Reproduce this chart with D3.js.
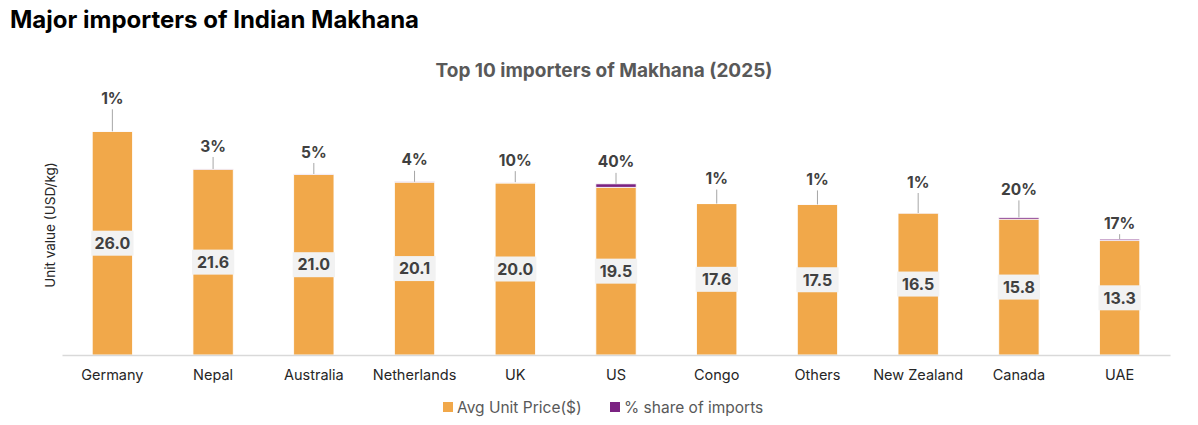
<!DOCTYPE html>
<html>
    <head>
        <title>Makhana importers</title>
        <style>
body {
    margin: 0;
    background: #fff;
}

svg {
    display: block;
    font-family: Inter, "Noto Sans", sans-serif;
}

.bar {
    stroke: #fff;
    stroke-width: 0.8;
}
        </style>
    </head>
    <body>
        <div id="d3"></div>
        <script src="https://d3js.org/d3.v7.min.js"></script>
        <script>

// values
const countries = ["Germany", "Nepal", "Australia", "Netherlands", "UK", "US", "Congo", "Others", "New Zealand", "Canada", "UAE"]
const avgPrice = [26.0, 21.6, 21.0, 20.1, 20.0, 19.5, 17.6, 17.5, 16.5, 15.8, 13.3]
const shareOfImports = [0.01, 0.03, 0.05, 0.04, 0.10, 0.40, 0.01, 0.01, 0.01, 0.20, 0.17]
const seriesNames = ["Avg Unit Price($)", "% share of imports"]

// hand placed lift of the % labels above each bar (like dragged Excel labels)
const labelLift = [33, 23, 22, 22, 22, 22, 25, 25, 31, 28, 16]

const W = 1198, H = 425
const margin = {top: 97, right: 28, bottom: 70, left: 62}
const width = W - margin.left - margin.right
const height = H - margin.top - margin.bottom

const orange = "#f1a84a"
const purple = "#7b2382"

const data = countries.map((c, i) => ({
    country: c, price: avgPrice[i], share: shareOfImports[i], lift: labelLift[i]
}))

const svg = d3.select("#d3").append("svg")
    .attr("width", W)
    .attr("height", H)

svg.append("text")
    .attr("x", 10)
    .attr("y", 28)
    .style("font-size", "24px")
    .style("font-weight", 700)
    .attr("fill", "#000")
    .text("Major importers of Indian Makhana")

svg.append("text")
    .attr("x", 604)
    .attr("y", 77)
    .attr("text-anchor", "middle")
    .style("font-size", "19px")
    .style("font-weight", 700)
    .attr("fill", "#595959")
    .text("Top 10 importers of Makhana (2025)")

const g = svg.append("g")
    .attr("transform", "translate(" + margin.left + "," + margin.top + ")")

const x = d3.scaleBand()
    .domain(countries)
    .range([0, width])
    .paddingInner(0.6)
    .paddingOuter(0.3)

const y = d3.scaleLinear()
    .domain([0, 30])
    .range([height, height - 30 * 8.6])

// stacked bars: price, then share on top
const stack = d3.stack().keys(["price", "share"])(data)
const colors = [orange, purple]

g.selectAll(".layer")
    .data(stack)
    .enter()
    .append("g")
    .attr("fill", (d, i) => colors[i])
    .selectAll("rect")
    .data(d => d)
    .enter()
    .append("rect")
    .attr("class", "bar")
    .attr("x", d => x(d.data.country))
    .attr("width", x.bandwidth())
    .attr("y", d => y(d[1]))
    .attr("height", d => y(d[0]) - y(d[1]))

// x axis
const xAxis = g.append("g")
    .attr("transform", "translate(0," + height + ")")
    .call(d3.axisBottom(x).tickSize(0).tickPadding(15))
xAxis.select(".domain")
    .attr("stroke", "#d9d9d9")
    .attr("stroke-width", 1.5)
xAxis.selectAll("text")
    .style("font-size", "14.5px")
    .style("font-family", "Inter, 'Noto Sans', sans-serif")
    .attr("fill", "#262626")

// y axis title
svg.append("text")
    .attr("transform", "translate(55,225) rotate(-90)")
    .attr("text-anchor", "middle")
    .style("font-size", "13.5px")
    .attr("fill", "#262626")
    .text("Unit value (USD/kg)")

// value labels in the middle of the orange part
const vl = g.selectAll(".vlabel")
    .data(data)
    .enter()
    .append("g")
    .attr("transform", d => "translate(" + (x(d.country) + x.bandwidth() / 2) + "," + y(d.price / 2) + ")")
vl.append("rect")
    .attr("x", -x.bandwidth() / 2 - 1)
    .attr("y", -12.5)
    .attr("width", x.bandwidth() + 2)
    .attr("height", 25)
    .attr("fill", "#f2f2f2")
vl.append("text")
    .attr("text-anchor", "middle")
    .attr("dy", "0.36em")
    .style("font-size", "16px")
    .style("font-weight", 700)
    .attr("fill", "#404040")
    .text(d => d.price.toFixed(1))

// share labels with leader lines
const sl = g.selectAll(".slabel")
    .data(data)
    .enter()
    .append("g")
sl.filter(d => d.lift > 14)
    .append("line")
    .attr("x1", d => x(d.country) + x.bandwidth() / 2)
    .attr("x2", d => x(d.country) + x.bandwidth() / 2)
    .attr("y1", d => y(d.price + d.share) - d.lift + 11)
    .attr("y2", d => y(d.price + d.share))
    .attr("stroke", "#a6a6a6")
    .attr("stroke-width", 1)
sl.append("text")
    .attr("x", d => x(d.country) + x.bandwidth() / 2)
    .attr("y", d => y(d.price + d.share) - d.lift)
    .attr("dy", "0.36em")
    .attr("text-anchor", "middle")
    .style("font-size", "15.5px")
    .style("font-weight", 700)
    .attr("fill", "#404040")
    .text(d => Math.round(d.share * 100) + "%")

// legend
const legend = svg.append("g")
    .attr("transform", "translate(443,402)")
const items = legend.selectAll("g")
    .data(seriesNames)
    .enter()
    .append("g")
    .attr("transform", (d, i) => "translate(" + (i * 167) + ",0)")
items.append("rect")
    .attr("width", 10)
    .attr("height", 10)
    .attr("fill", (d, i) => colors[i])
items.append("text")
    .attr("x", 14)
    .attr("y", 10.5)
    .style("font-size", "15.5px")
    .attr("fill", "#595959")
    .text(d => d)
        </script>
    </body>
</html>
